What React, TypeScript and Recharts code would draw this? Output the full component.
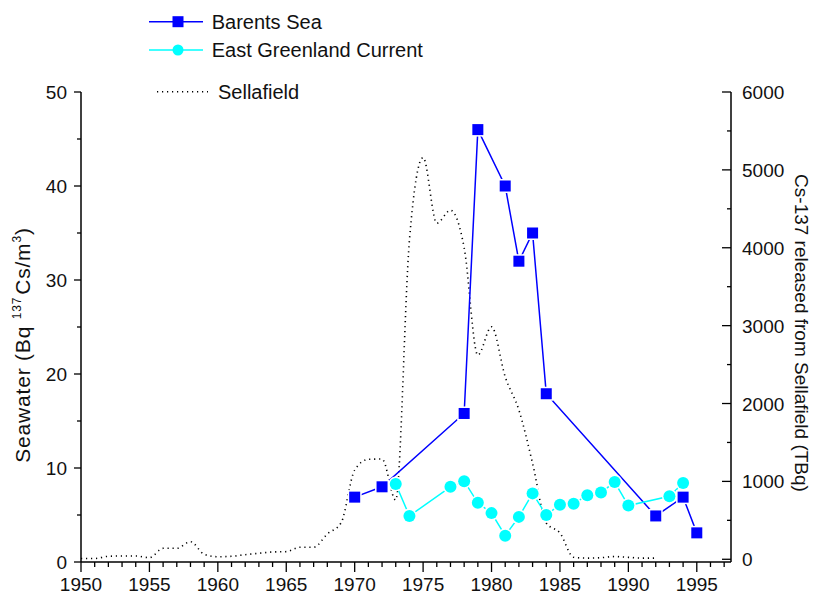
import { LineChart, Line, XAxis, YAxis, Legend } from 'recharts'

const barentsYears = [1970, 1972, 1978, 1979, 1981, 1982, 1983, 1984, 1992, 1994, 1995]
const barentsValues = [6.9, 8, 15.8, 46, 40, 32, 35, 17.9, 4.9, 6.9, 3.1]

const greenlandYears = [1973, 1974, 1977, 1978, 1979, 1980, 1981, 1982, 1983, 1984, 1985, 1986, 1987, 1988, 1989, 1990, 1993, 1994]
const greenlandValues = [8.3, 4.9, 8.0, 8.6, 6.3, 5.2, 2.8, 4.8, 7.3, 5.0, 6.1, 6.2, 7.1, 7.4, 8.5, 6.0, 7.0, 8.4]

const sellafieldYears = [
  1950, 1951, 1952, 1953, 1954, 1955, 1956, 1957, 1958, 1959, 1960, 1961, 1962, 1963, 1964,
  1965, 1966, 1967, 1968, 1969, 1970, 1971, 1972, 1973, 1974, 1975, 1976, 1977, 1978, 1979,
  1980, 1981, 1982, 1983, 1984, 1985, 1986, 1987, 1988, 1989, 1990, 1991, 1992,
]
const sellafieldValues = [
  10, 10, 38, 42, 42, 20, 141, 141, 226, 64, 33, 38, 59, 77, 94,
  98, 154, 154, 325, 466, 1146, 1283, 1287, 761, 4097, 5158, 4315, 4482, 4000, 2622,
  2985, 2343, 1916, 1232, 466, 338, 25, 15, 20, 35, 25, 15, 15,
]

const xMajorTicks = [1950, 1955, 1960, 1965, 1970, 1975, 1980, 1985, 1990, 1995]
const leftMajorTicks = [0, 10, 20, 30, 40, 50]
const rightMajorTicks = [0, 1000, 2000, 3000, 4000, 5000, 6000]

const xTicks: number[] = []
for (let yr = 1950; yr <= 1997; yr++) xTicks.push(yr)
const leftTicks = [0, 5, 10, 15, 20, 25, 30, 35, 40, 45, 50]
const rightTicks = [0, 500, 1000, 1500, 2000, 2500, 3000, 3500, 4000, 4500, 5000, 5500, 6000]

const barentsData = barentsYears.map((year, i) => ({ year, value: barentsValues[i] }))
const greenlandData = greenlandYears.map((year, i) => ({ year, value: greenlandValues[i] }))
const sellafieldData = sellafieldYears.map((year, i) => ({ year, value: sellafieldValues[i] }))

const FONT = '"Liberation Sans", Arial, sans-serif'
const BLUE = '#0000FF'
const CYAN = '#00FFFF'

function XTick({ x, y, payload }: any) {
  const major = xMajorTicks.includes(payload.value)
  return (
    <g>
      <line x1={x} x2={x} y1={y} y2={y + (major ? 10 : 5)} stroke="#000" strokeWidth={1.3} />
      {major && (
        <text x={x} y={y + 29} textAnchor="middle" fontSize={19} fontFamily={FONT} fill="#111">
          {payload.value}
        </text>
      )}
    </g>
  )
}

function LeftTick({ x, y, payload }: any) {
  const major = leftMajorTicks.includes(payload.value)
  return (
    <g>
      <line x1={x - (major ? 7 : 4)} x2={x} y1={y} y2={y} stroke="#000" strokeWidth={1.3} />
      {major && (
        <text x={x - 14} y={y + 7} textAnchor="end" fontSize={19} fontFamily={FONT} fill="#111">
          {payload.value}
        </text>
      )}
    </g>
  )
}

function RightTick({ x, y, payload }: any) {
  const major = rightMajorTicks.includes(payload.value)
  return (
    <g>
      <line x1={x - (major ? 9 : 4)} x2={x} y1={y} y2={y} stroke="#000" strokeWidth={1.3} />
      {major && (
        <text x={x + 11} y={y + 7} textAnchor="start" fontSize={19} fontFamily={FONT} fill="#111">
          {payload.value}
        </text>
      )}
    </g>
  )
}

function SquareDot(props: any) {
  const { cx, cy, index } = props
  return (
    <g key={`sq-${index}`}>
      <rect x={cx - 7} y={cy - 7} width={14} height={14} fill="#fff" />
      <rect x={cx - 5.5} y={cy - 5.5} width={11} height={11} fill={BLUE} />
    </g>
  )
}

function CircleDot(props: any) {
  const { cx, cy, index } = props
  return (
    <g key={`ci-${index}`}>
      <circle cx={cx} cy={cy} r={7.5} fill="#fff" />
      <circle cx={cx} cy={cy} r={6} fill={CYAN} />
    </g>
  )
}

function LeftLabel() {
  return (
    <text
      transform="translate(30,345) rotate(-90)"
      textAnchor="middle"
      fontSize={21}
      letterSpacing={0.8}
      fontFamily={FONT}
      fill="#111"
    >
      Seawater (Bq{' '}
      <tspan fontSize={12} dy={-9}>137</tspan>
      <tspan dy={9} dx={2}>Cs/m</tspan>
      <tspan fontSize={12} dy={-9}>3</tspan>
      <tspan dy={9}>)</tspan>
    </text>
  )
}

function RightLabel() {
  return (
    <text
      transform="translate(795,333) rotate(90)"
      textAnchor="middle"
      fontSize={19}
      fontFamily={FONT}
      fill="#111"
    >
      Cs-137 released from Sellafield (TBq)
    </text>
  )
}

function LegendBox() {
  return (
    <svg width={480} height={110} style={{ display: 'block' }}>
      <line x1={149} x2={203} y1={21.7} y2={21.7} stroke={BLUE} strokeWidth={1.5} />
      <rect x={172.5} y={16.2} width={11} height={11} fill={BLUE} />
      <text x={211.7} y={28.7} fontSize={20} fontFamily={FONT} fill="#111">Barents Sea</text>

      <line x1={149} x2={203} y1={50} y2={50} stroke={CYAN} strokeWidth={1.5} />
      <circle cx={178} cy={50} r={5.5} fill={CYAN} />
      <text x={211.7} y={57} fontSize={20} fontFamily={FONT} fill="#111">East Greenland Current</text>

      <line x1={157} x2={208} y1={91.7} y2={91.7} stroke="#000" strokeWidth={1.6} strokeDasharray="1.2 3.8" />
      <text x={218} y={98.7} fontSize={20} fontFamily={FONT} fill="#111">Sellafield</text>
    </svg>
  )
}

export default function App() {
  return (
    <div style={{ position: 'absolute', left: 0, top: 0, background: '#fff' }}>
      <LineChart width={813} height={596} margin={{ top: 92, right: 0, bottom: 0, left: 0 }}>
        <XAxis
          type="number"
          dataKey="year"
          domain={[1950, 1997.5]}
          ticks={xTicks}
          interval={0}
          height={34}
          tickSize={0}
          tickMargin={0}
          tickLine={false}
          tick={<XTick />}
          axisLine={{ stroke: '#000', strokeWidth: 1.5 }}
          allowDuplicatedCategory={false}
        />
        <YAxis
          yAxisId="left"
          orientation="left"
          type="number"
          domain={[0, 50]}
          ticks={leftTicks}
          interval={0}
          width={81}
          tickSize={0}
          tickMargin={0}
          tickLine={false}
          tick={<LeftTick />}
          axisLine={{ stroke: '#000', strokeWidth: 1.5 }}
          label={{ content: () => <LeftLabel /> }}
        />
        <YAxis
          yAxisId="right"
          orientation="right"
          type="number"
          domain={[-35, 6000]}
          ticks={rightTicks}
          interval={0}
          width={82}
          tickSize={0}
          tickMargin={0}
          tickLine={false}
          tick={<RightTick />}
          axisLine={{ stroke: '#000', strokeWidth: 1.5 }}
          label={{ content: () => <RightLabel /> }}
        />
        <Legend
          layout="vertical"
          align="center"
          verticalAlign="middle"
          content={() => <LegendBox />}
          wrapperStyle={{ top: 0, left: 0, width: 480, height: 110 }}
        />
        <Line
          yAxisId="right"
          data={sellafieldData}
          dataKey="value"
          name="Sellafield"
          type="monotone"
          stroke="#000"
          strokeWidth={1.6}
          strokeDasharray="1.2 3.8"
          dot={false}
          activeDot={false}
          isAnimationActive={false}
        />
        <Line
          yAxisId="left"
          data={barentsData}
          dataKey="value"
          name="Barents Sea"
          type="linear"
          stroke={BLUE}
          strokeWidth={1.5}
          dot={SquareDot}
          activeDot={false}
          isAnimationActive={false}
        />
        <Line
          yAxisId="left"
          data={greenlandData}
          dataKey="value"
          name="East Greenland Current"
          type="linear"
          stroke={CYAN}
          strokeWidth={1.5}
          dot={CircleDot}
          activeDot={false}
          isAnimationActive={false}
        />
      </LineChart>
    </div>
  )
}
